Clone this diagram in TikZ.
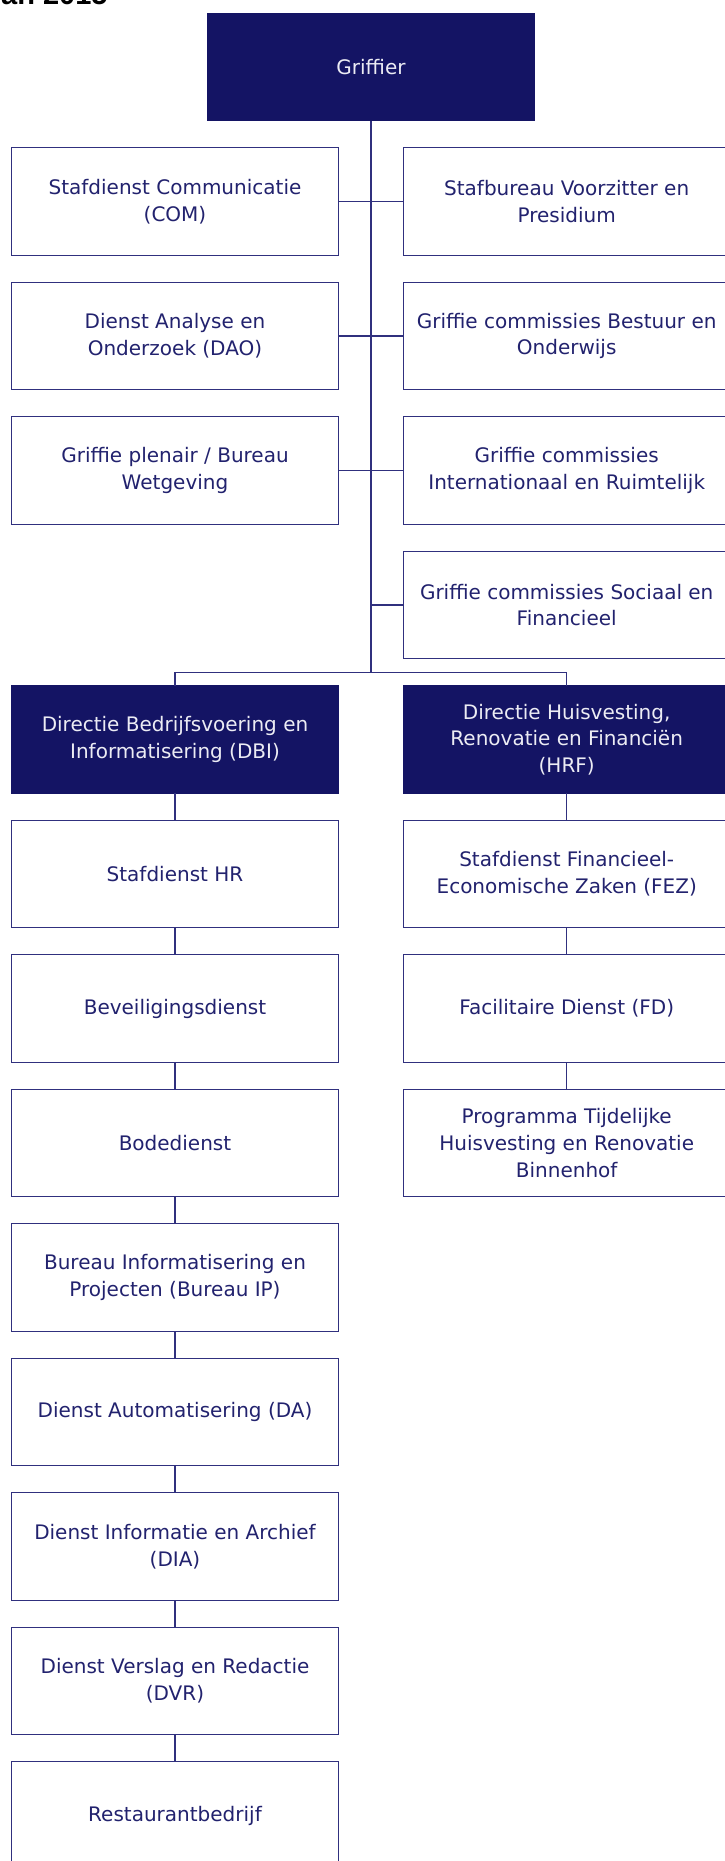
\documentclass[tikz,border=0pt]{standalone}
\usepackage{fontspec}
\setmainfont{DejaVu Sans}
\newfontfamily\titlefont{Liberation Sans}
\usepackage{tikz}
\usetikzlibrary{positioning,calc}
\definecolor{OrgNavy}{HTML}{141464}
\definecolor{OrgLine}{HTML}{30307E}
\definecolor{OrgText}{HTML}{22226E}
\definecolor{OrgPale}{HTML}{ECECF4}

\begin{document}
\begin{tikzpicture}[x=1pt,y=-1pt,line cap=rect,line join=miter,
    unit/.style={draw=OrgLine,line width=1.2pt,fill=white,text=OrgText,
      minimum width=327pt,minimum height=107.4pt,inner sep=0pt,align=center,
      font=\fontsize{20}{26.7}\selectfont},
    head/.style={unit,draw=OrgNavy,fill=OrgNavy,text=OrgPale},
    link/.style={draw=OrgLine,line width=1.2pt}]
  \path[use as bounding box] (0,0) rectangle (724,1861);

  % Title line, cut by the top of the page.
  \node[anchor=base west,inner sep=0pt,font=\titlefont\bfseries\fontsize{29}{30}\selectfont]
    (title) at (1,4.7) {an 2015};

  % Top of the organisation.
  \node[head] (griffier) at (371,67) {Griffier};

  % Staff units beside the trunk.
  \node[unit] (com) at (175,201.5) {Stafdienst Communicatie\\(COM)};
  \node[unit] (svp) at (566.7,201.5) {Stafbureau Voorzitter en\\Presidium};
  \node[unit] (dao) at (175,336) {Dienst Analyse en\\Onderzoek (DAO)};
  \node[unit] (gbo) at (566.7,336) {Griffie commissies Bestuur en\\Onderwijs};
  \node[unit] (gpw) at (175,470.5) {Griffie plenair / Bureau\\Wetgeving};
  \node[unit] (gir) at (566.7,470.5) {Griffie commissies\\Internationaal en Ruimtelijk};
  \node[unit] (gsf) at (566.7,605) {Griffie commissies Sociaal en\\Financieel};

  % The two directorates.
  \node[head] (dbi) at (175,739.5) {Directie Bedrijfsvoering en\\Informatisering (DBI)};
  \node[head] (hrf) at (566.7,739.5) {Directie Huisvesting,\\Renovatie en Financiën\\(HRF)};

  % Units under DBI.
  \node[unit] (hr) at (175,874) {Stafdienst HR};
  \node[unit] (bev) at (175,1008.5) {Beveiligingsdienst};
  \node[unit] (bode) at (175,1143) {Bodedienst};
  \node[unit] (bip) at (175,1277.5) {Bureau Informatisering en\\Projecten (Bureau IP)};
  \node[unit] (da) at (175,1412) {Dienst Automatisering (DA)};
  \node[unit] (dia) at (175,1546.5) {Dienst Informatie en Archief\\(DIA)};
  \node[unit] (dvr) at (175,1681) {Dienst Verslag en Redactie\\(DVR)};
  \node[unit] (rest) at (175,1815.5) {Restaurantbedrijf};

  % Units under HRF.
  \node[unit] (fez) at (566.7,874) {Stafdienst Financieel-\\Economische Zaken (FEZ)};
  \node[unit] (fd) at (566.7,1008.5) {Facilitaire Dienst (FD)};
  \node[unit] (pth) at (566.7,1143) {Programma Tijdelijke\\Huisvesting en Renovatie\\Binnenhof};

  % Trunk and branches.
  \coordinate (split) at (371,672.3);
  \draw[link] (griffier.south) -- (split);
  \draw[link] (com.east) -- (svp.west);
  \draw[link] (dao.east) -- (gbo.west);
  \draw[link] (gpw.east) -- (gir.west);
  \draw[link] (split |- gsf.west) -- (gsf.west);
  \draw[link] (dbi.north) |- (split) -| (hrf.north);

  \foreach \a/\b in {dbi/hr,hr/bev,bev/bode,bode/bip,bip/da,da/dia,dia/dvr,dvr/rest,
                     hrf/fez,fez/fd,fd/pth}
    \draw[link] (\a.south) -- (\b.north);
\end{tikzpicture}
\end{document}
